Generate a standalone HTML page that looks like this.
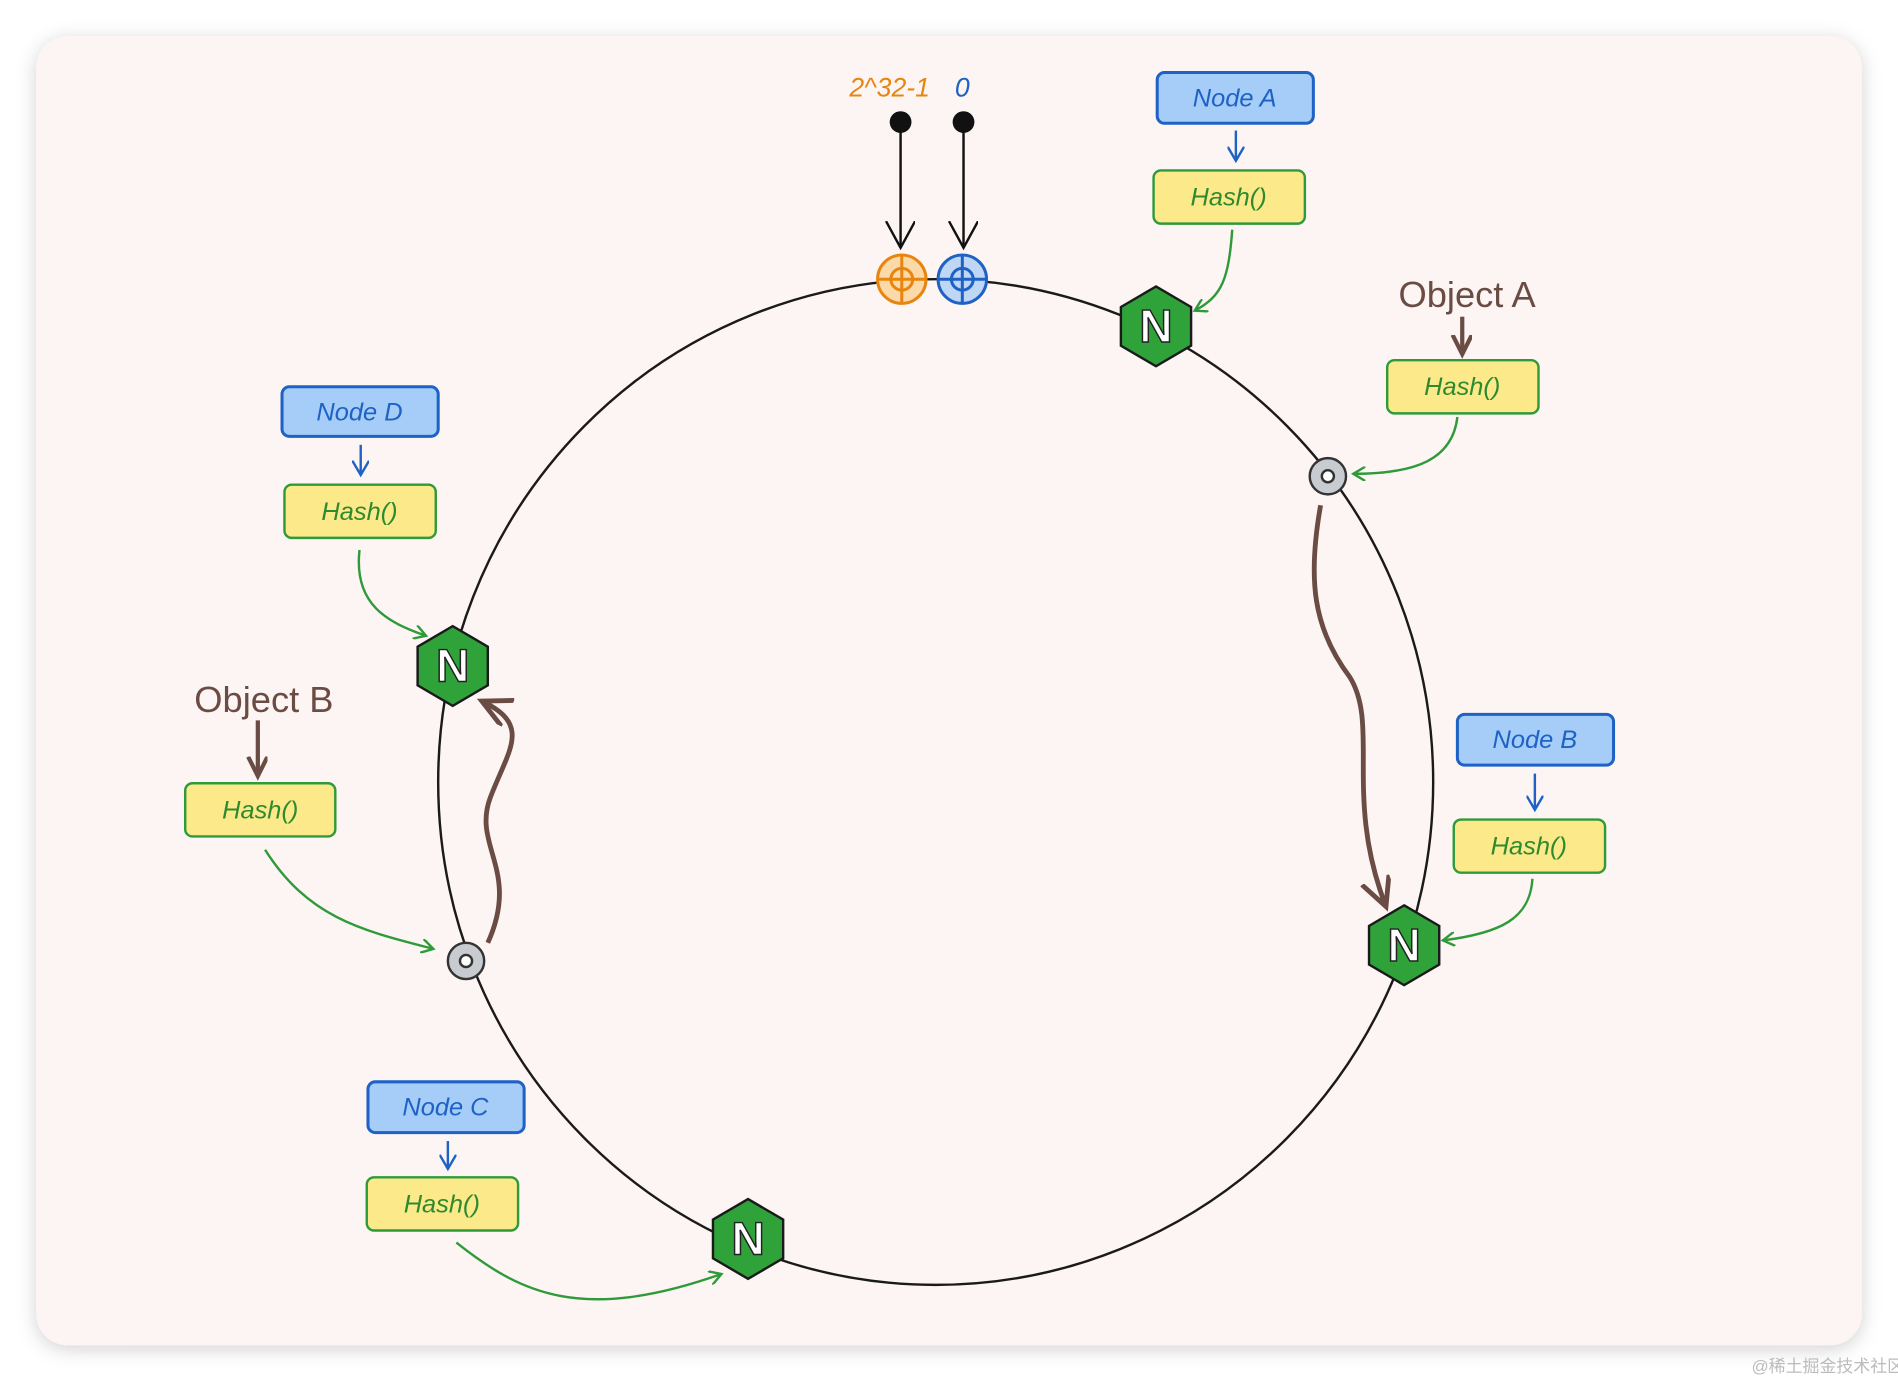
<!DOCTYPE html>
<html><head><meta charset="utf-8"><style>
html,body{margin:0;padding:0;background:#fff;}
svg{display:block}
text{font-family:"Liberation Sans",sans-serif}
.hand{font-family:"Liberation Sans",sans-serif;font-style:italic}
</style></head><body>
<svg width="1898" height="1384" viewBox="0 0 1568 1145" preserveAspectRatio="none" xmlns="http://www.w3.org/2000/svg">
<defs>
<filter id="sh" x="-5%" y="-5%" width="110%" height="110%"><feDropShadow dx="0" dy="3" stdDeviation="8" flood-color="#000" flood-opacity="0.18"/></filter>
<marker id="ag" markerWidth="12" markerHeight="12" refX="10" refY="6" orient="auto" markerUnits="userSpaceOnUse"><path d="M0,0 L10,6 L0,12" fill="none" stroke="#2f9a3a" stroke-width="2"/></marker>
<marker id="ab" markerWidth="14" markerHeight="14" refX="12" refY="7" orient="auto" markerUnits="userSpaceOnUse"><path d="M0,0 L12,7 L0,14" fill="none" stroke="#1e62c6" stroke-width="2"/></marker>
<marker id="ak" markerWidth="24" markerHeight="36" refX="22" refY="12" orient="auto" markerUnits="userSpaceOnUse"><path d="M0,0 L22,12 L0,24" fill="none" stroke="#111" stroke-width="2"/></marker>
<marker id="abr" markerWidth="30" markerHeight="30" refX="24" refY="12" orient="auto" markerUnits="userSpaceOnUse"><path d="M0,0 L24,12 L0,24" fill="none" stroke="#6b4c45" stroke-width="4"/></marker>
<marker id="abr2" markerWidth="20" markerHeight="20" refX="16" refY="8" orient="auto" markerUnits="userSpaceOnUse"><path d="M0,0 L16,8 L0,16" fill="none" stroke="#6b4c45" stroke-width="3.5"/></marker>
<g id="hex"><polygon points="0,-33 29,-16 29,16 0,33 -29,16 -29,-16" fill="#2fa33a" stroke="#1a1a1a" stroke-width="2"/><text x="0" y="13" text-anchor="middle" font-size="38" font-weight="bold" fill="#fff" stroke="#222" stroke-width="1.2">N</text></g>
<g id="disk"><circle r="15" fill="#c8cbd0" stroke="#333" stroke-width="2"/><circle r="5" fill="#fff" stroke="#333" stroke-width="2"/></g>
</defs>
<rect x="0" y="0" width="1568" height="1145" fill="#fff"/>
<rect x="30" y="30" width="1508" height="1083" rx="26" fill="#fcf5f3" filter="url(#sh)"/>
<ellipse cx="773" cy="647" rx="411" ry="416" fill="none" stroke="#1a1a1a" stroke-width="2"/>

<!-- top markers -->
<text x="735" y="80" text-anchor="middle" font-size="22" fill="#e8850f" class="hand">2^32-1</text>
<text x="795" y="80" text-anchor="middle" font-size="22" fill="#1e62c6" class="hand">0</text>
<circle cx="744" cy="101" r="9" fill="#111"/><circle cx="796" cy="101" r="9" fill="#111"/>
<line x1="744" y1="105" x2="744" y2="205" stroke="#111" stroke-width="2" marker-end="url(#ak)"/>
<line x1="796" y1="105" x2="796" y2="205" stroke="#111" stroke-width="2" marker-end="url(#ak)"/>
<g stroke="#e8850f" stroke-width="2.5" fill="#fbd9a8"><circle cx="745" cy="231" r="20"/><circle cx="745" cy="231" r="9" fill="none"/><line x1="725" y1="231" x2="765" y2="231"/><line x1="745" y1="211" x2="745" y2="251"/></g>
<g stroke="#1e62c6" stroke-width="2.5" fill="#bfd6f5"><circle cx="795" cy="231" r="20"/><circle cx="795" cy="231" r="9" fill="none"/><line x1="775" y1="231" x2="815" y2="231"/><line x1="795" y1="211" x2="795" y2="251"/></g>

<!-- node boxes -->
<g font-size="21" class="hand" text-anchor="middle">
<rect x="956" y="60" width="129" height="42" rx="6" fill="#a5cdf7" stroke="#1e62c6" stroke-width="2.5"/><text x="1020" y="88" fill="#1e62c6">Node A</text>
<rect x="233" y="320" width="129" height="41" rx="6" fill="#a5cdf7" stroke="#1e62c6" stroke-width="2.5"/><text x="297" y="348" fill="#1e62c6">Node D</text>
<rect x="1204" y="591" width="129" height="42" rx="6" fill="#a5cdf7" stroke="#1e62c6" stroke-width="2.5"/><text x="1268" y="619" fill="#1e62c6">Node B</text>
<rect x="304" y="895" width="129" height="42" rx="6" fill="#a5cdf7" stroke="#1e62c6" stroke-width="2.5"/><text x="368" y="923" fill="#1e62c6">Node C</text>
<g fill="#fbe98a" stroke="#2f9a3a" stroke-width="2">
<rect x="953" y="141" width="125" height="44" rx="6"/><rect x="235" y="401" width="125" height="44" rx="6"/>
<rect x="1146" y="298" width="125" height="44" rx="6"/><rect x="1201" y="678" width="125" height="44" rx="6"/>
<rect x="153" y="648" width="124" height="44" rx="6"/><rect x="303" y="974" width="125" height="44" rx="6"/>
</g>
<g fill="#2f8a2f">
<text x="1015" y="170">Hash()</text><text x="297" y="430">Hash()</text><text x="1208" y="327">Hash()</text>
<text x="1263" y="707">Hash()</text><text x="215" y="677">Hash()</text><text x="365" y="1003">Hash()</text>
</g>
</g>
<g stroke="#1e62c6" stroke-width="2" fill="none">
<line x1="1021" y1="108" x2="1021" y2="133" marker-end="url(#ab)"/>
<line x1="298" y1="368" x2="298" y2="393" marker-end="url(#ab)"/>
<line x1="1268" y1="640" x2="1268" y2="670" marker-end="url(#ab)"/>
<line x1="370" y1="944" x2="370" y2="967" marker-end="url(#ab)"/>
</g>

<text x="1212" y="254" text-anchor="middle" font-size="30" fill="#6b4c45">Object A</text>
<text x="218" y="589" text-anchor="middle" font-size="30" fill="#6b4c45">Object B</text>
<line x1="1208" y1="262" x2="1208" y2="293" stroke="#6b4c45" stroke-width="3.5" marker-end="url(#abr2)"/>
<line x1="213" y1="596" x2="213" y2="642" stroke="#6b4c45" stroke-width="3.5" marker-end="url(#abr2)"/>

<!-- green arrows -->
<g stroke="#2f9a3a" stroke-width="2" fill="none">
<path d="M1018,190 C1015,230 1010,245 987,257" marker-end="url(#ag)"/>
<path d="M1204,345 C1200,380 1170,392 1118,392" marker-end="url(#ag)"/>
<path d="M297,455 C292,500 320,515 352,526" marker-end="url(#ag)"/>
<path d="M1266,727 C1264,760 1240,772 1192,778" marker-end="url(#ag)"/>
<path d="M219,703 C255,760 300,770 358,785" marker-end="url(#ag)"/>
<path d="M377,1028 C430,1070 480,1095 596,1054" marker-end="url(#ag)"/>
</g>

<!-- brown wavy arrows -->
<path d="M1091,418 C1080,480 1085,520 1115,560 C1140,600 1110,660 1145,750" fill="none" stroke="#6b4c45" stroke-width="4" marker-end="url(#abr)"/>
<path d="M403,780 C430,720 390,700 405,660 C420,620 440,600 398,580" fill="none" stroke="#6b4c45" stroke-width="4" marker-end="url(#abr)"/>

<use href="#disk" x="1097" y="394"/><use href="#disk" x="385" y="795"/>
<use href="#hex" x="955" y="270"/><use href="#hex" x="374" y="551"/>
<use href="#hex" x="1160" y="782"/><use href="#hex" x="618" y="1025"/>

<text x="1510" y="1135" text-anchor="middle" font-size="14" fill="#bbb" style="font-family:'Liberation Sans','Noto Sans CJK SC',sans-serif">@稀土掘金技术社区</text>
</svg>
</body></html>
